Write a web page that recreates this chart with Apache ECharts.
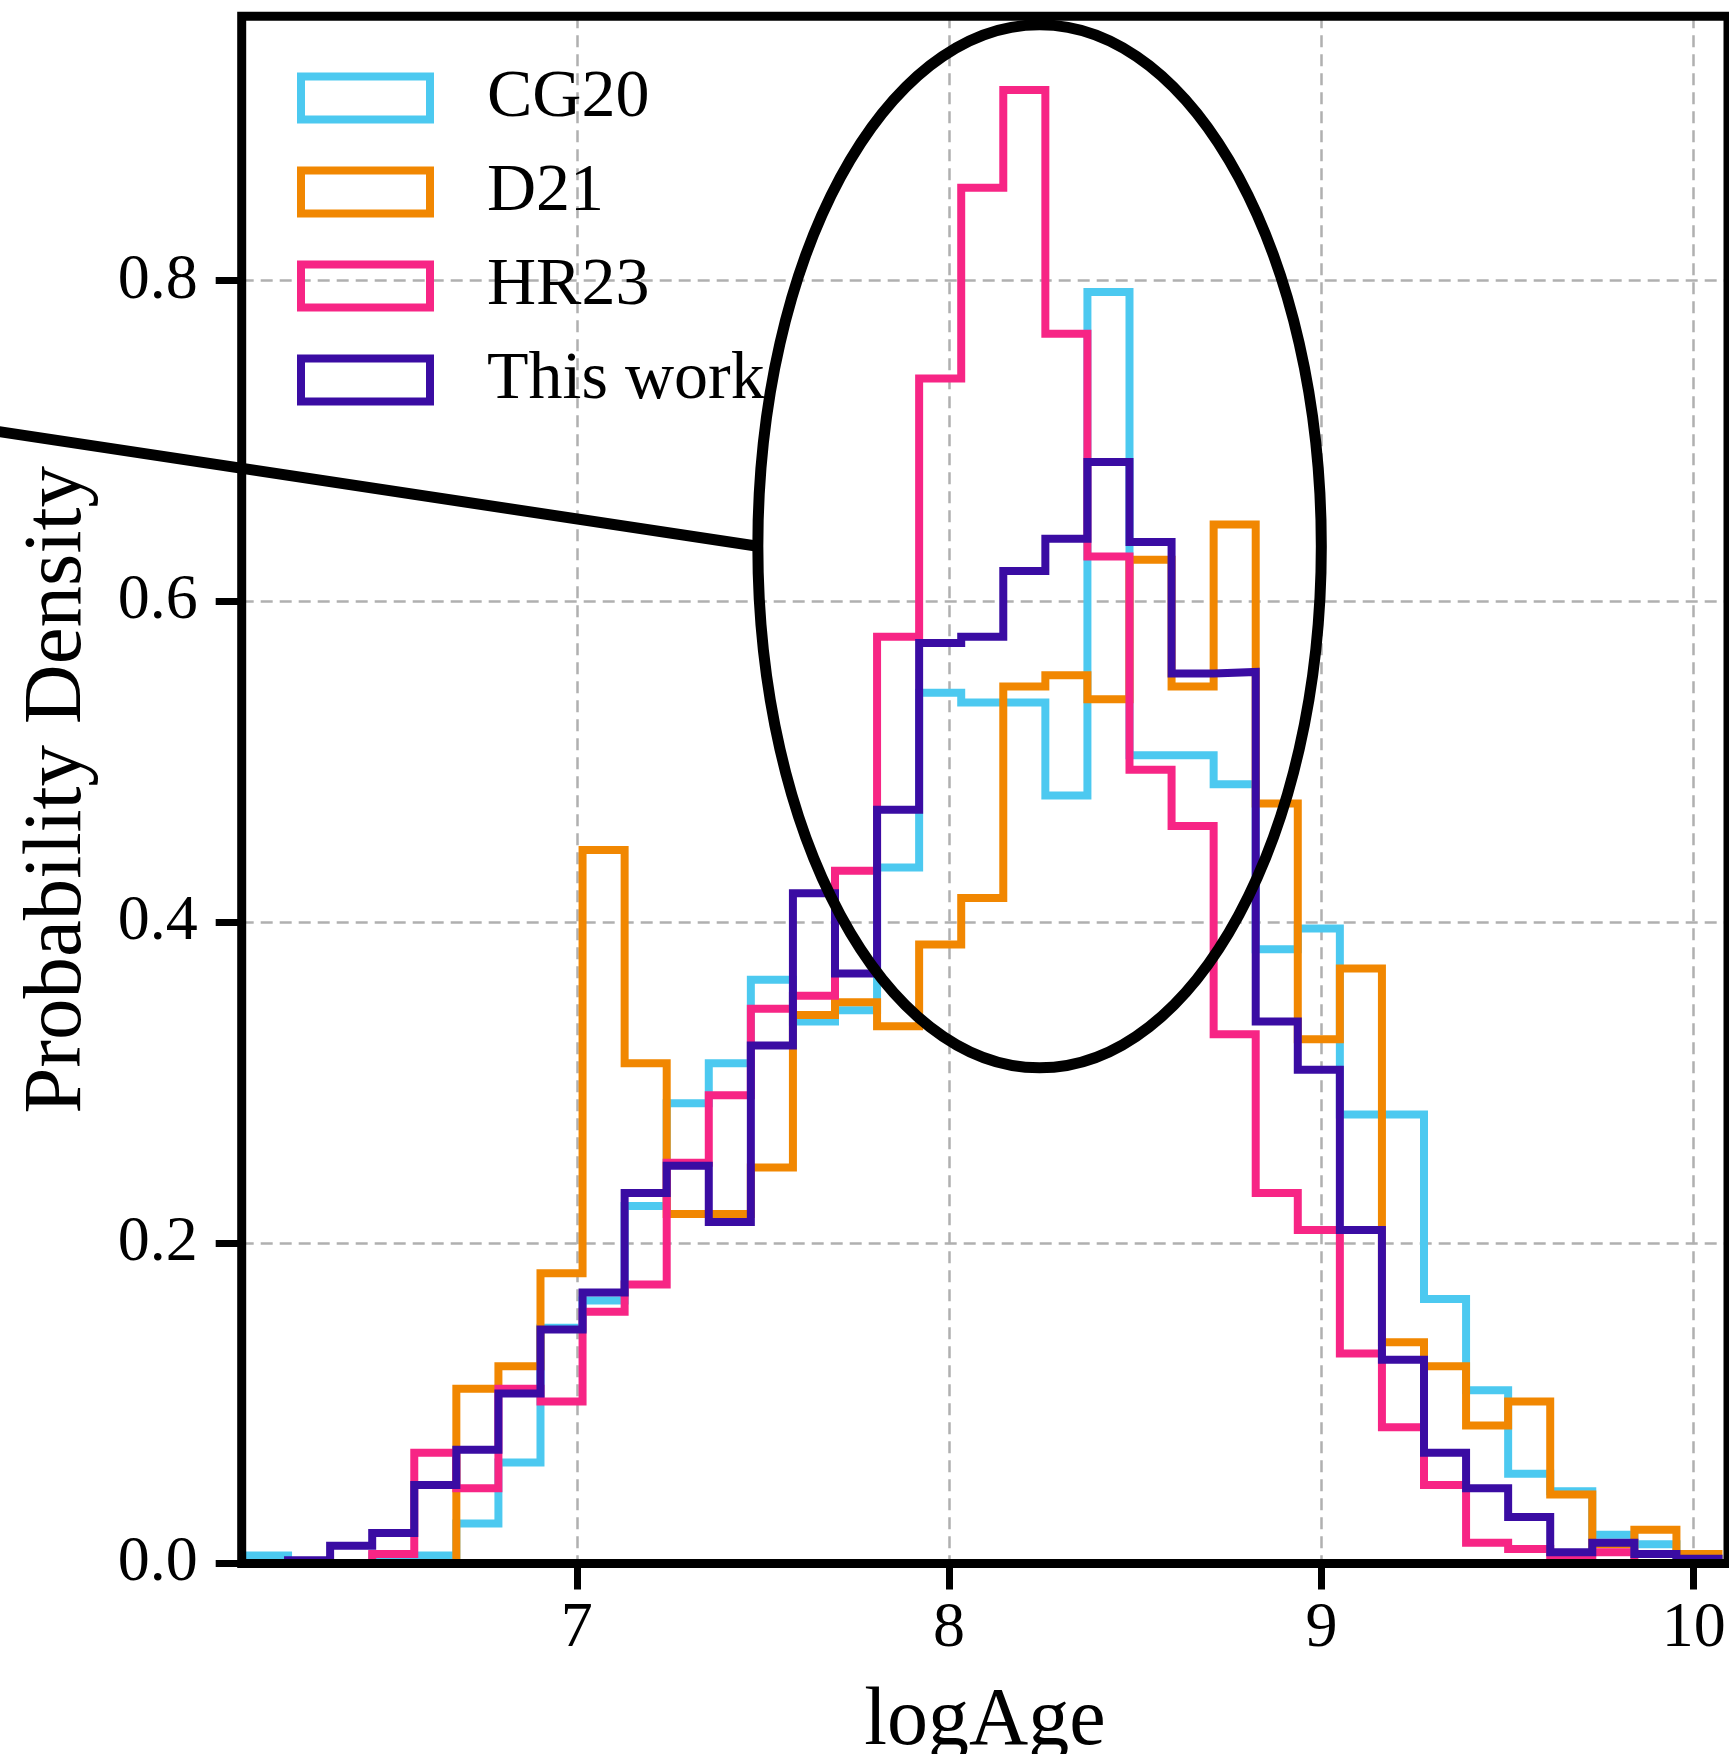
<!DOCTYPE html>
<html><head><meta charset="utf-8">
<script src="https://cdn.jsdelivr.net/npm/echarts@6/dist/echarts.min.js"></script>
<style>html,body{margin:0;padding:0;background:#fff}#c{width:1729px;height:1754px}</style>
</head><body><div id="c"></div>
<script>
// ---- data ----
const seriesNames = ['CG20', 'D21', 'HR23', 'This work'];
const binStart = 6.1115;
const binWidth = 0.113;
const binCount = 35;
const cg20 = [0.005,0,0,0.005,0.005,0.025,0.063,0.147,0.164,0.223,0.287,0.312,0.364,0.338,0.345,0.434,0.543,0.537,0.537,0.479,0.793,0.504,0.504,0.486,0.383,0.396,0.280,0.280,0.165,0.108,0.056,0.045,0.018,0.012,0.003];
const d21  = [0,0,0,0,0,0.109,0.123,0.181,0.445,0.312,0.218,0.218,0.247,0.342,0.350,0.335,0.386,0.415,0.547,0.554,0.539,0.626,0.547,0.648,0.474,0.327,0.371,0.138,0.123,0.086,0.101,0.043,0.012,0.021,0.006];
const hr23 = [0,0,0,0.006,0.069,0.047,0.109,0.101,0.157,0.174,0.250,0.292,0.346,0.354,0.432,0.578,0.739,0.858,0.919,0.767,0.628,0.495,0.460,0.330,0.231,0.208,0.131,0.085,0.049,0.013,0.009,0.003,0.007,0,0];
const thisWork = [0,0.002,0.011,0.019,0.049,0.071,0.106,0.146,0.169,0.231,0.248,0.213,0.323,0.418,0.368,0.470,0.574,0.578,0.619,0.639,0.687,0.637,0.555,0.556,0.338,0.308,0.208,0.127,0.069,0.047,0.029,0.007,0.013,0.006,0.003];
const xTicks = [7, 8, 9, 10];
const yTicks = [0, 0.2, 0.4, 0.6, 0.8];
const xTitle = 'logAge';
const yTitle = 'Probability Density';
// annotation (data coordinates)
const annoLine = [[5.40, 0.7076], [7.486, 0.6344]];
const annoEllipseCenter = [8.243, 0.6344];
const annoEllipseRadii = [0.7567, 0.3253];

// ---- styles ----
const colors = ['#4CC9F0', '#F18701', '#F72585', '#3A0CA3'];
const FONT = 'Liberation Serif';

const binEdges = [];
for (let i = 0; i <= binCount; i++) binEdges.push(+(binStart + i * binWidth).toFixed(4));

function stepData(h) {
  const pts = [[binEdges[0], 0]];
  for (let i = 0; i < h.length; i++) pts.push([binEdges[i], h[i]]);
  pts.push([binEdges[h.length], h[h.length - 1]]);
  pts.push([binEdges[h.length], 0]);
  return pts;
}

const allSeries = [cg20, d21, hr23, thisWork];
const chart = echarts.init(document.getElementById('c'), null, {renderer: 'canvas'});

const option = {
  animation: false,
  backgroundColor: '#fff',
  grid: {
    left: 241.7, right: 1, top: 16.3, bottom: 190.5,
    outerBoundsMode: 'none', containLabel: false,
    show: true, borderColor: '#000', borderWidth: 9,
    backgroundColor: 'transparent', z: 10
  },
  legend: {
    orient: 'vertical', left: 297, top: 64, padding: 0,
    itemWidth: 129, itemHeight: 43, itemGap: 26,
    textStyle: {fontFamily: FONT, fontSize: 68, color: '#000', padding: [0, 0, 0, 52]},
    data: seriesNames.map((n, i) => ({
      name: n, icon: 'rect',
      itemStyle: {color: 'rgba(0,0,0,0)', borderColor: colors[i], borderWidth: 8}
    }))
  },
  xAxis: {
    type: 'value', min: 6.1, max: 10.092,
    name: xTitle, nameLocation: 'middle', nameGap: 118,
    nameTextStyle: {fontFamily: FONT, fontSize: 82, color: '#000'},
    axisLine: {show: false},
    axisTick: {show: true, customValues: xTicks, length: 26, lineStyle: {color: '#000', width: 7}},
    axisLabel: {customValues: xTicks, margin: 34, fontFamily: FONT, fontSize: 64, color: '#000',
      formatter: v => String(v)},
    splitLine: {show: true, lineStyle: {color: '#b0b0b0', width: 2.5, type: [12, 7]}}
  },
  yAxis: {
    type: 'value', min: 0, max: 0.9649,
    name: yTitle, nameLocation: 'middle', nameGap: 142,
    nameTextStyle: {fontFamily: FONT, fontSize: 83, color: '#000'},
    axisLine: {show: false},
    axisTick: {show: true, customValues: yTicks, length: 26, lineStyle: {color: '#000', width: 7}},
    axisLabel: {customValues: yTicks, margin: 44, fontFamily: FONT, fontSize: 64, color: '#000',
      formatter: v => v.toFixed(1)},
    splitLine: {show: true, lineStyle: {color: '#b0b0b0', width: 2.5, type: [12, 7]}}
  },
  series: allSeries.map((h, i) => ({
    name: seriesNames[i], type: 'line', step: 'end', symbol: 'none',
    data: stepData(h), color: colors[i],
    lineStyle: {color: colors[i], width: 8, cap: 'butt', join: 'miter'},
    z: 2 + i * 0.01
  }))
};
chart.setOption(option);

const p0 = chart.convertToPixel({gridIndex: 0}, annoLine[0]);
const p1 = chart.convertToPixel({gridIndex: 0}, annoLine[1]);
const c = chart.convertToPixel({gridIndex: 0}, annoEllipseCenter);
const ex = chart.convertToPixel({gridIndex: 0}, [annoEllipseCenter[0] + annoEllipseRadii[0], annoEllipseCenter[1]]);
const ey = chart.convertToPixel({gridIndex: 0}, [annoEllipseCenter[0], annoEllipseCenter[1] + annoEllipseRadii[1]]);
chart.setOption({
  graphic: [
    {type: 'line', z: 100, shape: {x1: p0[0], y1: p0[1], x2: p1[0], y2: p1[1]},
     style: {stroke: '#000', lineWidth: 11}},
    {type: 'ellipse', z: 100, shape: {cx: c[0], cy: c[1], rx: ex[0] - c[0], ry: c[1] - ey[1]},
     style: {fill: 'none', stroke: '#000', lineWidth: 11}}
  ]
});
</script></body></html>
